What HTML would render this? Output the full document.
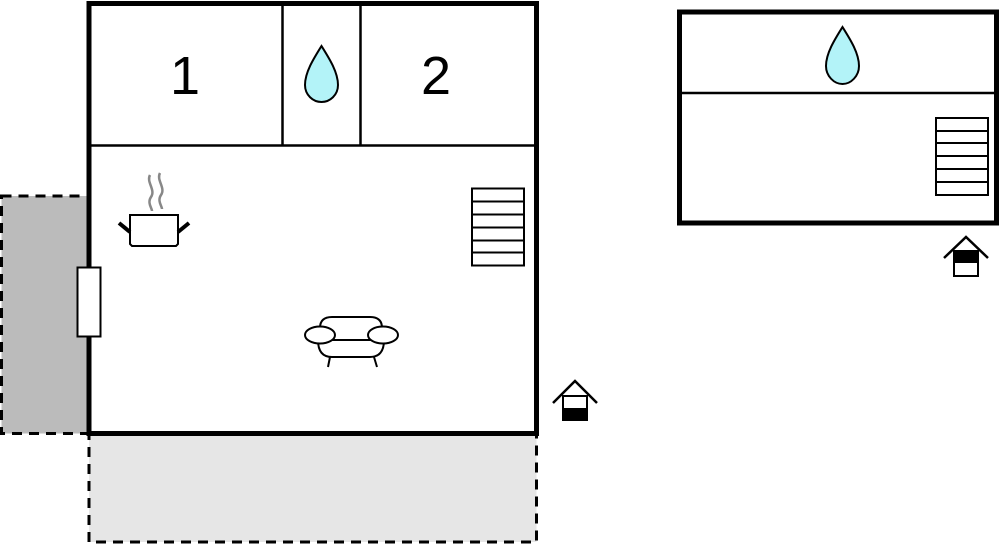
<!DOCTYPE html>
<html><head><meta charset="utf-8"><style>
html,body{margin:0;padding:0;background:#fff;width:1000px;height:545px;overflow:hidden}
svg{display:block}
</style></head><body>
<svg width="1000" height="545" viewBox="0 0 1000 545" xmlns="http://www.w3.org/2000/svg">
<!-- outdoor areas -->
<rect x="1.5" y="196" width="87" height="237.5" fill="#bbbbbb" stroke="#000" stroke-width="3" stroke-dasharray="10,7"/>
<rect x="89" y="434" width="447.5" height="108" fill="#e6e6e6" stroke="#000" stroke-width="3" stroke-dasharray="10,7"/>
<!-- main house -->
<rect x="89" y="3.5" width="447.5" height="430" fill="#fff" stroke="#000" stroke-width="5"/>
<line x1="89" y1="145.5" x2="536.5" y2="145.5" stroke="#000" stroke-width="2.5"/>
<line x1="282.5" y1="3.5" x2="282.5" y2="145.5" stroke="#000" stroke-width="2.5"/>
<line x1="360.5" y1="3.5" x2="360.5" y2="145.5" stroke="#000" stroke-width="2.5"/>
<text x="185" y="94" font-family="Liberation Sans, sans-serif" font-size="54" text-anchor="middle">1</text>
<text x="436" y="94" font-family="Liberation Sans, sans-serif" font-size="54" text-anchor="middle">2</text>
<path d="M321.5,46 C314,58 305,72 305,85 C305,95 313,102 321.5,102 C330,102 338,95 338,85 C338,72 329,58 321.5,46 Z" fill="#b3f3f8" stroke="#000" stroke-width="2"/>
<!-- window -->
<rect x="77.5" y="267.5" width="23" height="69" fill="#fff" stroke="#000" stroke-width="2"/>
<!-- stairs main -->
<g fill="none" stroke="#000" stroke-width="2">
<rect x="472" y="188.5" width="52" height="77"/>
<line x1="472" y1="201.5" x2="524" y2="201.5"/>
<line x1="472" y1="214.5" x2="524" y2="214.5"/>
<line x1="472" y1="227.5" x2="524" y2="227.5"/>
<line x1="472" y1="240.5" x2="524" y2="240.5"/>
<line x1="472" y1="252.5" x2="524" y2="252.5"/>
</g>
<!-- pot -->
<path d="M150,175 C146,182 156,190 151,197 C147,203 152,208 152,211" fill="none" stroke="#888" stroke-width="2.5"/>
<path d="M160,173 C156,180 166,188 161,195 C157,201 162,206 162,209" fill="none" stroke="#888" stroke-width="2.5"/>
<path d="M130,215 H178 V244 L176,246 H132 L130,244 Z" fill="#fff" stroke="#000" stroke-width="2"/>
<line x1="119" y1="223" x2="130" y2="232" stroke="#000" stroke-width="4"/>
<line x1="178" y1="232" x2="189" y2="223" stroke="#000" stroke-width="4"/>
<!-- sofa -->
<g fill="#fff" stroke="#000" stroke-width="2">
<path d="M320,340 L320,328 Q320,317 332,317 H370 Q382,317 382,328 L382,340 Z"/>
<path d="M318,340 Q318,357 332,357 H370 Q384,357 384,340 Z"/>
<ellipse cx="320" cy="335" rx="15" ry="8.5"/>
<ellipse cx="383" cy="335" rx="15" ry="8.5"/>
<line x1="330" y1="357" x2="328" y2="367"/>
<line x1="374" y1="357" x2="377" y2="367"/>
</g>
<!-- entrance main -->
<polyline points="553,403 575,381 597,403" fill="none" stroke="#000" stroke-width="2.5"/>
<rect x="563" y="396" width="24" height="24" fill="#fff" stroke="#000" stroke-width="2"/>
<rect x="563" y="408" width="24" height="12" fill="#000"/>
<!-- right building -->
<rect x="679.5" y="12" width="317" height="211" fill="#fff" stroke="#000" stroke-width="5"/>
<line x1="679.5" y1="93" x2="996.5" y2="93" stroke="#000" stroke-width="2.5"/>
<path d="M842.5,27 C835,39 826,53 826,66 C826,76 834,84 842.5,84 C851,84 859,76 859,66 C859,53 850,39 842.5,27 Z" fill="#b3f3f8" stroke="#000" stroke-width="2"/>
<g fill="none" stroke="#000" stroke-width="2">
<rect x="936" y="118" width="52" height="77"/>
<line x1="936" y1="131" x2="988" y2="131"/>
<line x1="936" y1="143" x2="988" y2="143"/>
<line x1="936" y1="156" x2="988" y2="156"/>
<line x1="936" y1="169" x2="988" y2="169"/>
<line x1="936" y1="182" x2="988" y2="182"/>
</g>
<!-- entrance right -->
<polyline points="944,258 966,237 988,258" fill="none" stroke="#000" stroke-width="2.5"/>
<rect x="954" y="251" width="24" height="25" fill="#fff" stroke="#000" stroke-width="2"/>
<rect x="954" y="251" width="24" height="12" fill="#000"/>
</svg>
</body></html>
